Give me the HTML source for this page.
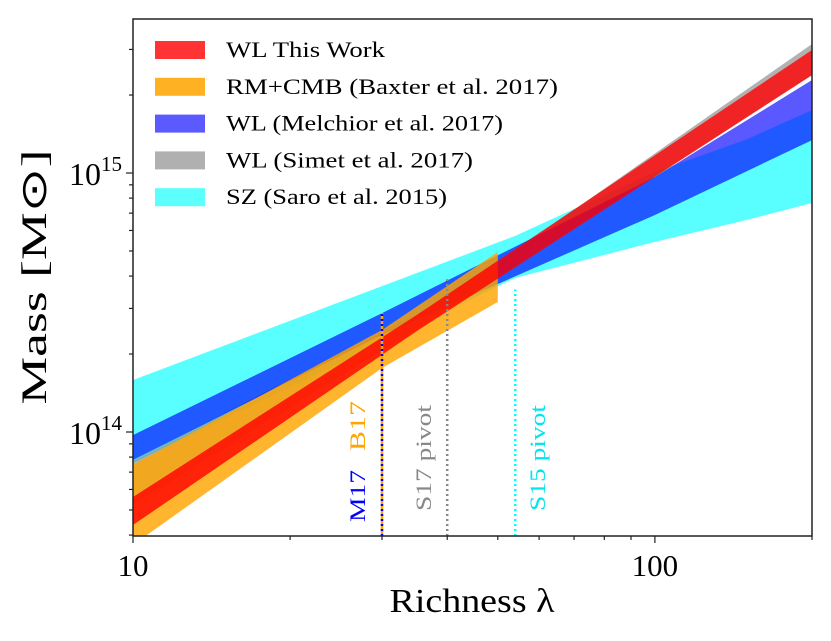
<!DOCTYPE html>
<html><head><meta charset="utf-8"><style>
body{margin:0;background:#fff}
svg text{font-family:"Liberation Serif",serif}
</style></head><body>
<svg id="chart" width="831" height="636" viewBox="0 0 831 636" xmlns="http://www.w3.org/2000/svg"></svg>
<script>
// data (log10 mass in Msun at richness nodes)
const redLam=[10,35,200], redLo=[13.641,14.390,15.378], redHi=[13.749,14.452,15.475];
const orLam=[10,30,50], orLo=[13.564,14.247,14.502], orHi=[13.873,14.394,14.695];
const grLam=[10,40,200], grLo=[13.718,14.471,15.378], grHi=[13.89,14.517,15.498];
const blLam=[10,30,100,200], blLo=[13.892,14.375,14.838,15.127], blHi=[13.988,14.459,14.985,15.359];
const cyLam=[10,54,100,150,200], cyLo=[13.88,14.595,14.734,14.819,14.884], cyHi=[14.201,14.757,15.004,15.13,15.243];
const pivots=[30,40,54];
const pivotTop=[14.46,14.59,14.55];
const xTicks=[10,100], xTickLabels=["10","100"];
const yTicks=[14,15];
const legendNames=["WL This Work","RM+CMB (Baxter et al. 2017)","WL (Melchior et al. 2017)","WL (Simet et al. 2017)","SZ (Saro et al. 2015)"];
const legendWidths=[159,332,277,247,221];

const X0=133,X1=812,Y0=19,Y1=536;
const xs=l=>X0+(Math.log10(l)-1)*(X1-X0)/Math.log10(20);
const ys=lm=>432-(lm-14)*259;
const svg=document.getElementById('chart');
const NS="http://www.w3.org/2000/svg";
function mk(t,a,p){const e=document.createElementNS(NS,t);for(const k in a)e.setAttribute(k,a[k]);(p||svg).appendChild(e);return e;}
const defs=mk('defs',{});const cp=mk('clipPath',{id:'c'},defs);mk('rect',{x:X0,y:Y0,width:X1-X0,height:Y1-Y0},cp);
const g=mk('g',{'clip-path':'url(#c)'});
function band(lam,lo,hi,col,op,name){
 let pts=lam.map((l,i)=>xs(l)+','+ys(hi[i]));
 for(let i=lam.length-1;i>=0;i--)pts.push(xs(lam[i])+','+ys(lo[i]));
 const p=mk('polygon',{points:pts.join(' '),fill:col,'fill-opacity':op},g);
 
 
}
band(cyLam,cyLo,cyHi,'#00ffff',0.65,'band-sz-saro');
band(grLam,grLo,grHi,'#888888',0.65,'band-wl-simet');
band(blLam,blLo,blHi,'#0000ff',0.65,'band-wl-melchior');
band(orLam,orLo,orHi,'#ffa500',0.82,'band-rm-cmb-baxter');
band(redLam,redLo,redHi,'#ff0000',0.8,'band-wl-this-work');
const pc=['#0000ff','#888888','#00ffff'];
pivots.forEach((p,i)=>{
 if(i==0){const l0=mk('line',{x1:xs(p),x2:xs(p),y1:Y1,y2:ys(pivotTop[i]),stroke:'#ffa500','stroke-width':2.5});
 }
 const l=mk('line',{x1:xs(p),x2:xs(p),y1:Y1,y2:ys(pivotTop[i]),stroke:pc[i],'stroke-width':2.5,'stroke-dasharray':'2,3'});
 
 
});
function rt(x,y,txt,col,name,len){const t=mk('text',{x:x,y:y,transform:`rotate(-90 ${x} ${y})`,fill:col,'font-size':22,textLength:len,lengthAdjust:'spacingAndGlyphs'});t.textContent=txt;
 }
rt(365,522,'M17','#0000ff','m17-label',52);rt(365,451,'B17','#ffa500','b17-label',50);
rt(431,511,'S17 pivot','#888888','s17-pivot-label',106);rt(545,511,'S15 pivot','#00e5ee','s15-pivot-label',106);
// frame
const fr=mk('rect',{x:X0,y:Y0,width:X1-X0,height:Y1-Y0,fill:'none',stroke:'#222','stroke-width':1.5});

// x ticks
for(let v of [10,20,30,40,50,60,70,80,90,100,200]){const x=xs(v);const major=xTicks.includes(v);
 mk('line',{x1:x,x2:x,y1:Y1,y2:Y1+(major?7:4),stroke:'#222','stroke-width':1.2});}
xTicks.forEach((v,i)=>{const t=mk('text',{x:xs(v),y:576,'text-anchor':'middle','font-size':31});t.textContent=xTickLabels[i];
 });
// y ticks
for(let d=13;d<=15;d++)for(let m=1;m<10;m++){const lm=d+Math.log10(m);const y=ys(lm);if(y<Y0||y>Y1)continue;
 mk('line',{x1:X0,x2:X0-(m==1?7:4),y1:y,y2:y,stroke:'#222','stroke-width':1.2});}
yTicks.forEach(v=>{const t=mk('text',{x:122,y:ys(v)+12,'text-anchor':'end','font-size':32});
 t.innerHTML='10<tspan dy="-14" font-size="21">'+v+'</tspan>';
 });
// axis titles
let t=mk('text',{x:472,y:612,'text-anchor':'middle','font-size':34,textLength:165,lengthAdjust:'spacingAndGlyphs'});t.textContent='Richness λ';

t=mk('text',{x:46,y:277,'text-anchor':'middle','font-size':36,transform:'rotate(-90 46 277)',textLength:255,lengthAdjust:'spacingAndGlyphs'});t.textContent='Mass [M⊙]';

// legend
const lc=['#ff3333','#ffb124','#5a5aff','#b0b0b0','#5afffe'];
legendNames.forEach((n,i)=>{const y=50+i*36.8;
 const r=mk('rect',{x:155,y:y-9,width:50,height:18,fill:lc[i]});
 
 const tx=mk('text',{x:226,y:y+7,'font-size':22,textLength:legendWidths[i],lengthAdjust:'spacingAndGlyphs'});tx.textContent=n;
 });
</script>
</body></html>
